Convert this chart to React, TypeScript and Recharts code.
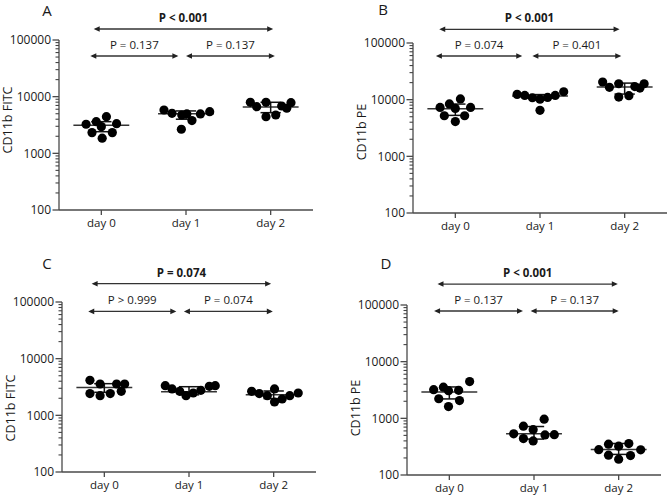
import React from 'react';
import { ScatterChart, Scatter, XAxis, YAxis, ReferenceLine } from 'recharts';

const categories = ['day 0', 'day 1', 'day 2'];
const majorTicks = [100, 1000, 10000, 100000];
const minorSteps = [1, 2, 3, 4, 5, 6, 7, 8, 9];

// Panel A – CD11b FITC
const aDay0 = [3260, 3620, 4440, 3340, 2960, 2320, 2320, 1850];
const aDay1 = [5820, 5090, 4750, 4950, 3780, 4950, 5440, 2660];
const aDay2 = [7960, 6660, 7960, 4440, 4750, 6850, 6240, 7830];
const aJit0 = [-0.18, -0.06, 0.06, 0.18, 0, -0.11, 0.13, 0.01];
const aJit1 = [-0.26, -0.165, -0.05, 0.01, 0.07, 0.17, 0.28, -0.055];
const aJit2 = [-0.24, -0.165, -0.055, -0.055, 0.06, 0.13, 0.19, 0.24];
const aMean = [3130, 5000, 6580];
const aLow = [2410, 4000, 5220];
const aHigh = [3620, 5600, 7960];
const aNoteFrom = [-0.09, -0.13, 1.0];
const aNoteTo = [2.03, 0.91, 2.05];
const aNoteY = [156300, 52240, 52240];
const aNoteText = ['P < 0.001', 'P = 0.137', 'P = 0.137'];

// Panel B – CD11b PE
const bDay0 = [7300, 8400, 10300, 7300, 7000, 5200, 5200, 4100];
const bDay1 = [12400, 11900, 10800, 10200, 10950, 11900, 13800, 6480];
const bDay2 = [20500, 16500, 19100, 11100, 11750, 17000, 16000, 19100];
const bJit0 = [-0.18, -0.07, 0.06, 0.18, 0, -0.13, 0.11, 0];
const bJit1 = [-0.27, -0.18, -0.09, 0, 0.09, 0.18, 0.28, 0];
const bJit2 = [-0.26, -0.18, -0.07, -0.07, 0.05, 0.12, 0.18, 0.23];
const bMean = [6930, 11600, 16700];
const bLow = [5280, 9900, 12550];
const bHigh = [8360, 12300, 19600];
const bNoteFrom = [-0.19, -0.23, 0.91];
const bNoteTo = [1.94, 0.79, 1.96];
const bNoteY = [174600, 59020, 59020];
const bNoteText = ['P < 0.001', 'P = 0.074', 'P = 0.401'];

// Panel C – CD11b FITC
const cDay0 = [4140, 3570, 3570, 3570, 2420, 2220, 2420, 2650];
const cDay1 = [3340, 2920, 2650, 2220, 2480, 2760, 3250, 3340];
const cDay2 = [2650, 2420, 2220, 2920, 1720, 1940, 2220, 2480];
const cJit0 = [-0.17, -0.05, 0.145, 0.24, -0.17, -0.05, 0.07, 0.2];
const cJit1 = [-0.28, -0.2, -0.11, -0.035, 0.05, 0.14, 0.24, 0.31];
const cJit2 = [-0.26, -0.17, -0.075, 0.01, 0.01, 0.1, 0.19, 0.29];
const cMean = [3100, 2610, 2300];
const cLow = [2550, 2300, 1970];
const cHigh = [3620, 3200, 2690];
const cNoteFrom = [-0.15, -0.19, 0.94];
const cNoteTo = [1.97, 0.85, 1.99];
const cNoteY = [210400, 68230, 68230];
const cNoteText = ['P = 0.074', 'P > 0.999', 'P = 0.074'];

// Panel D – CD11b PE
const dDay0 = [3210, 3550, 3080, 3120, 4450, 2215, 2060, 1610];
const dDay1 = [533, 726, 440, 630, 400, 965, 510, 515];
const dDay2 = [280, 350, 224, 323, 190, 358, 220, 278];
const dJit0 = [-0.185, -0.07, -0.01, 0.11, 0.24, -0.125, 0.12, -0.01];
const dJit1 = [-0.24, -0.125, -0.125, -0.01, -0.01, 0.12, 0.13, 0.24];
const dJit2 = [-0.235, -0.12, -0.12, 0, 0, 0.12, 0.14, 0.26];
const dMean = [2920, 533, 282];
const dLow = [2200, 430, 231];
const dHigh = [3580, 717, 360];
const dNoteFrom = [-0.14, -0.18, 0.96];
const dNoteTo = [1.99, 0.87, 2.0];
const dNoteY = [234400, 78340, 78340];
const dNoteText = ['P < 0.001', 'P = 0.137', 'P = 0.137'];

const yTicks = [
  ...majorTicks.slice(0, 3).flatMap((d) => minorSteps.map((k) => d * k)),
  majorTicks[3],
];

const AXIS = '#4a4a4a';
const TEXT = '#1a1a1a';
const MEAN_HALF = 0.33;
const CAP_HALF = 0.12;

const renderLogTick = (props: any) => {
  const { x, y, payload } = props;
  const v = payload.value;
  const major = majorTicks.includes(v);
  if (!major) {
    return (
      <line x1={x - 3.5} x2={x} y1={y} y2={y} stroke="#444" strokeWidth={1.1} />
    );
  }
  return (
    <g>
      <line x1={x - 6.5} x2={x} y1={y} y2={y} stroke={AXIS} strokeWidth={1.3} />
      <text x={x - 8} y={y} dy="0.36em" textAnchor="end" fontSize={12} fill={TEXT}>
        {v}
      </text>
    </g>
  );
};

const ArrowShape = (props: any) => {
  const { x1, y1, x2, y2 } = props;
  const L = 6;
  const H = 2.8;
  return (
    <g>
      <line x1={x1 + 2} y1={y1} x2={x2 - 2} y2={y2} stroke="#333" strokeWidth={1.3} />
      <polygon points={`${x1},${y1} ${x1 + L},${y1 - H} ${x1 + L},${y1 + H}`} fill="#222" />
      <polygon points={`${x2},${y2} ${x2 - L},${y2 - H} ${x2 - L},${y2 + H}`} fill="#222" />
    </g>
  );
};

const YLabel = (props: any) => {
  const { viewBox, text, shift } = props;
  const vb = viewBox || { x: 10, y: 40, width: 50, height: 170 };
  const cx = vb.x + vb.width - 52;
  const cy = vb.y + vb.height / 2 + shift;
  return (
    <text
      x={cx}
      y={cy}
      transform={`rotate(-90, ${cx}, ${cy})`}
      textAnchor="middle"
      dominantBaseline="central"
      fontSize={12.5}
      fill={TEXT}
    >
      {text}
    </text>
  );
};

type PanelProps = {
  left: number;
  top: number;
  yLabel: string;
  labelShift: number;
  days: number[][];
  jits: number[][];
  mean: number[];
  low: number[];
  high: number[];
  noteFrom: number[];
  noteTo: number[];
  noteY: number[];
  noteText: string[];
};

function Panel(p: PanelProps) {
  const points = p.days.flatMap((vals, d) =>
    vals.map((v, i) => ({ x: d + p.jits[d][i], y: v }))
  );
  return (
    <div style={{ position: 'absolute', left: p.left, top: p.top }}>
      <ScatterChart
        width={334}
        height={250}
        margin={{ top: 40, right: 20, bottom: 10, left: 10 }}
      >
        <XAxis
          type="number"
          dataKey="x"
          domain={[-0.5, 2.5]}
          allowDataOverflow
          ticks={[0, 1, 2]}
          interval={0}
          tickFormatter={(v: number) => categories[v]}
          stroke={AXIS}
          strokeWidth={1.3}
          tick={{ fill: TEXT, fontSize: 11.5 }}
          tickSize={5}
          tickMargin={4}
          height={30}
        />
        <YAxis
          type="number"
          dataKey="y"
          scale="log"
          domain={[100, 100000]}
          allowDataOverflow
          ticks={yTicks}
          interval={0}
          tick={renderLogTick}
          tickLine={false}
          tickSize={0}
          tickMargin={0}
          width={50}
          stroke={AXIS}
          strokeWidth={1.3}
          label={<YLabel text={p.yLabel} shift={p.labelShift} />}
        />
        <Scatter
          data={points}
          isAnimationActive={false}
          shape={(s: any) => <circle cx={s.cx} cy={s.cy} r={4.6} fill="#000" />}
        />
        {p.mean.map((m, d) => (
          <ReferenceLine
            key={`m${d}`}
            segment={[
              { x: d - MEAN_HALF, y: m },
              { x: d + MEAN_HALF, y: m },
            ]}
            stroke="#333"
            strokeWidth={1.5}
          />
        ))}
        {p.mean.map((m, d) => (
          <ReferenceLine
            key={`v${d}`}
            segment={[
              { x: d, y: p.low[d] },
              { x: d, y: p.high[d] },
            ]}
            stroke="#111"
            strokeWidth={1.5}
          />
        ))}
        {p.high.map((h, d) => (
          <ReferenceLine
            key={`h${d}`}
            segment={[
              { x: d - CAP_HALF, y: h },
              { x: d + CAP_HALF, y: h },
            ]}
            stroke="#111"
            strokeWidth={1.5}
          />
        ))}
        {p.low.map((l, d) => (
          <ReferenceLine
            key={`l${d}`}
            segment={[
              { x: d - CAP_HALF, y: l },
              { x: d + CAP_HALF, y: l },
            ]}
            stroke="#111"
            strokeWidth={1.5}
          />
        ))}
        {p.noteText.map((t, k) => (
          <ReferenceLine
            key={`n${k}`}
            ifOverflow="visible"
            segment={[
              { x: p.noteFrom[k], y: p.noteY[k] },
              { x: p.noteTo[k], y: p.noteY[k] },
            ]}
            shape={ArrowShape}
            label={{
              value: t,
              position: 'top',
              offset: 7,
              fill: TEXT,
              fontSize: 11.5,
              fontWeight: k === 0 ? 700 : 400,
            }}
          />
        ))}
      </ScatterChart>
    </div>
  );
}

export default function App() {
  return (
    <div
      style={{
        position: 'absolute',
        left: 0,
        top: 0,
        width: 668,
        height: 497,
        overflow: 'hidden',
        background: '#fff',
        fontFamily: "'Open Sans', sans-serif",
      }}
    >
      <Panel
        left={-1}
        top={0}
        yLabel="CD11b FITC"
        labelShift={-5}
        days={[aDay0, aDay1, aDay2]}
        jits={[aJit0, aJit1, aJit2]}
        mean={aMean}
        low={aLow}
        high={aHigh}
        noteFrom={aNoteFrom}
        noteTo={aNoteTo}
        noteY={aNoteY}
        noteText={aNoteText}
      />
      <Panel
        left={353}
        top={3}
        yLabel="CD11b PE"
        labelShift={4}
        days={[bDay0, bDay1, bDay2]}
        jits={[bJit0, bJit1, bJit2]}
        mean={bMean}
        low={bLow}
        high={bHigh}
        noteFrom={bNoteFrom}
        noteTo={bNoteTo}
        noteY={bNoteY}
        noteText={bNoteText}
      />
      <Panel
        left={2}
        top={262}
        yLabel="CD11b FITC"
        labelShift={21}
        days={[cDay0, cDay1, cDay2]}
        jits={[cJit0, cJit1, cJit2]}
        mean={cMean}
        low={cLow}
        high={cHigh}
        noteFrom={cNoteFrom}
        noteTo={cNoteTo}
        noteY={cNoteY}
        noteText={cNoteText}
      />
      <Panel
        left={347}
        top={265}
        yLabel="CD11b PE"
        labelShift={18}
        days={[dDay0, dDay1, dDay2]}
        jits={[dJit0, dJit1, dJit2]}
        mean={dMean}
        low={dLow}
        high={dHigh}
        noteFrom={dNoteFrom}
        noteTo={dNoteTo}
        noteY={dNoteY}
        noteText={dNoteText}
      />
      <svg
        width={668}
        height={497}
        style={{ position: 'absolute', left: 0, top: 0, pointerEvents: 'none' }}
      >
        <text x={47} y={15.5} textAnchor="middle" fontSize={15} fill={TEXT}>A</text>
        <text x={383} y={15} textAnchor="middle" fontSize={15} fill={TEXT}>B</text>
        <text x={47} y={269} textAnchor="middle" fontSize={15} fill={TEXT}>C</text>
        <text x={386} y={269} textAnchor="middle" fontSize={15} fill={TEXT}>D</text>
      </svg>
    </div>
  );
}
